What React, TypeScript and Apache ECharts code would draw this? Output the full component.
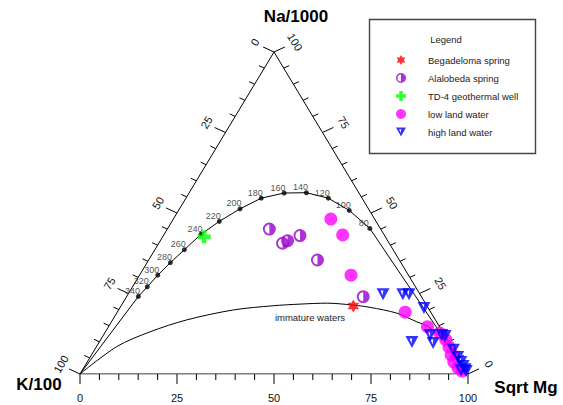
import React, { useEffect, useRef } from "react";
import * as echarts from "echarts";

// Ternary compositions: [Na/1000 %, K/100 %, Sqrt Mg %]
const tempLabels = ["340", "320", "300", "280", "260", "240", "220", "200", "180", "160", "140", "120", "100", "80"];
const equilibriumDots = [
  [24.1, 72.9, 3.0], [27.1, 69.1, 3.8], [30.7, 64.6, 4.7], [34.6, 59.4, 6.0],
  [38.6, 53.8, 7.6], [43.4, 47.1, 9.5], [47.4, 40.4, 12.2], [51.3, 33.1, 15.6],
  [54.6, 26.0, 19.4], [56.2, 19.3, 24.5], [56.3, 13.5, 30.2], [54.6, 8.7, 36.7],
  [50.8, 5.2, 44.0], [45.2, 2.7, 52.1],
];
const kCorner = [0, 100, 0];
const mgCorner = [0, 0, 100];
const immatureCurve = [
  [0, 100, 0], [8.5, 86.3, 5.2], [13.1, 75.4, 11.5], [16.8, 64.1, 19.1], [19.9, 50.5, 29.6],
  [21.2, 39.6, 39.2], [21.7, 32.5, 45.8], [22.0, 25.4, 52.6], [21.4, 18.9, 59.7],
  [20.7, 14.9, 64.4], [18.9, 8.9, 72.2], [16.2, 5.1, 78.7], [14.7, 2.9, 82.4],
  [9.9, 1.0, 89.1], [0, 0, 100],
];

const begadeloma = [[21.1, 19.0, 59.9], [6.2, 0.3, 93.5]];
const alalobeda = [
  [45.0, 28.7, 26.3], [40.6, 27.5, 31.9], [41.4, 25.8, 32.8],
  [43.0, 21.8, 35.2], [35.4, 21.1, 43.5], [24.0, 15.0, 61.0],
];
const td4 = [[42.6, 46.7, 10.7]];
const lowLand = [
  [48.1, 11.3, 40.6], [43.2, 10.7, 46.1], [30.7, 14.8, 54.5], [19.2, 6.6, 74.2],
  [14.7, 3.1, 82.2], [12.7, 0.9, 86.4], [10.6, 0.4, 89.0], [8.4, 0.7, 90.9],
  [5.9, 1.4, 92.7], [3.7, 1.8, 94.5], [1.9, 1.6, 96.5], [0.9, 1.1, 98.0],
];
const highLand = [
  [24.8, 9.5, 65.7], [24.8, 4.4, 70.8], [24.8, 2.8, 72.4], [20.5, 1.1, 78.4],
  [9.9, 9.5, 80.6], [12.1, 3.7, 84.2], [9.6, 4.2, 86.2], [12.1, 0.7, 87.2],
  [11.8, 0.0, 88.2], [7.5, 0.0, 92.5], [5.3, 0.0, 94.7], [3.7, 0.0, 96.3],
  [2.5, 0.0, 97.5], [1.5, 0.0, 98.5], [0.9, 0.0, 99.1], [1.2, 1.2, 97.6],
];

const tickValues = [0, 5, 10, 15, 20, 25, 30, 35, 40, 45, 50, 55, 60, 65, 70, 75, 80, 85, 90, 95, 100];
const majorTicks = [0, 25, 50, 75, 100];

const toXY = (t: number[]) => {
  const s = t[0] + t[1] + t[2];
  const na = (t[0] / s) * 100;
  const mg = (t[2] / s) * 100;
  return [mg + na / 2, na];
};

// ticks: [x, y, side(0 bottom,1 left,2 right), value]
const tickData: number[][] = [];
tickValues.forEach((v) => {
  const b = toXY([0, 100 - v, v]);
  tickData.push([b[0], b[1], 0, v]);
  const l = toXY([100 - v, v, 0]);
  tickData.push([l[0], l[1], 1, v]);
  const r = toXY([v, 0, 100 - v]);
  tickData.push([r[0], r[1], 2, v]);
});

const starPath = (() => {
  let d = "path://";
  for (let i = 0; i < 12; i++) {
    const a = ((-90 + i * 30) * Math.PI) / 180;
    const r = i % 2 === 0 ? 10 : 5.77;
    d += (i === 0 ? "M" : "L") + (10 + r * Math.cos(a)).toFixed(2) + "," + (10 + r * Math.sin(a)).toFixed(2);
  }
  return d + "Z";
})();
const halfCirclePath =
  "path://M10,0A10,10,0,1,1,10,20A10,10,0,1,1,10,0ZM10,3A7,7,0,1,0,10,17A7,7,0,1,0,10,3ZM10,3A7,7,0,0,1,10,17Z";
const crossPath = "path://M6.5,0H13.5V6.5H20V13.5H13.5V20H6.5V13.5H0V6.5H6.5Z";
const trianglePath = "path://M0,0L20,0L10,18ZM6.5,3.5L9,11L10.5,3.5Z";

const FONT = "Arial, 'Liberation Sans', sans-serif";

export default function App() {
  const ref = useRef<HTMLDivElement>(null);
  useEffect(() => {
    if (!ref.current) return;
    const chart = echarts.init(ref.current, null, { renderer: "svg" });
    const pts = (arr: number[][]) => arr.map(toXY);
    const option: any = {
      animation: false,
      grid: { left: 80, right: 95, top: 52, bottom: 31 },
      xAxis: { type: "value", min: 0, max: 100, show: false },
      yAxis: { type: "value", min: 0, max: 100, show: false },
      legend: {
        orient: "vertical",
        left: 396,
        top: 55,
        padding: 0,
        itemWidth: 10,
        itemHeight: 10,
        itemGap: 8,
        data: ["Begadeloma spring", "Alalobeda spring", "TD-4 geothermal well", "low land water", "high land water"],
        textStyle: { fontSize: 9.5, fontFamily: FONT, color: "#222", lineHeight: 10, padding: [0, 0, 0, 17] },
      },
      graphic: [
        { type: "rect", shape: { x: 369.5, y: 19.5, width: 166, height: 134 }, style: { fill: "none", stroke: "#444", lineWidth: 1.4 }, silent: true },
        { type: "text", x: 446, y: 39, style: { text: "Legend", fontSize: 9.5, fontFamily: FONT, fill: "#222", align: "center", verticalAlign: "middle" } },
        { type: "text", x: 296, y: 16, style: { text: "Na/1000", fontSize: 17, fontWeight: "bold", fontFamily: FONT, fill: "#000", align: "center", verticalAlign: "middle" } },
        { type: "text", x: 39, y: 384, style: { text: "K/100", fontSize: 17, fontWeight: "bold", fontFamily: FONT, fill: "#000", align: "center", verticalAlign: "middle" } },
        { type: "text", x: 526, y: 387, style: { text: "Sqrt Mg", fontSize: 17, fontWeight: "bold", fontFamily: FONT, fill: "#000", align: "center", verticalAlign: "middle" } },
        { type: "text", x: 310, y: 317, style: { text: "immature waters", fontSize: 9.5, fontFamily: FONT, fill: "#222", align: "center", verticalAlign: "middle" } },
      ],
      series: [
        {
          type: "line", silent: true, symbol: "none", z: 1,
          data: pts([kCorner, mgCorner, [100, 0, 0], kCorner]),
          lineStyle: { color: "#000", width: 1 },
        },
        {
          type: "line", silent: true, symbol: "none", z: 1,
          data: pts([kCorner, ...equilibriumDots, mgCorner]),
          lineStyle: { color: "#000", width: 1 },
        },
        {
          type: "line", silent: true, symbol: "none", z: 1, smooth: 0.3,
          data: pts(immatureCurve),
          lineStyle: { color: "#000", width: 1 },
        },
        {
          type: "scatter", silent: true, z: 2, symbolSize: 5,
          itemStyle: { color: "#000" },
          data: equilibriumDots.map((d, i) => ({ value: toXY(d), name: tempLabels[i] })),
          label: {
            show: true, position: "top", distance: 0, offset: [-6, 1.5],
            formatter: (p: any) => p.name, fontSize: 9, fontFamily: FONT, color: "#222",
          },
        },
        {
          type: "custom", silent: true, z: 1, clip: false,
          data: tickData,
          renderItem: (params: any, api: any) => {
            const p = api.coord([api.value(0), api.value(1)]);
            const side = api.value(2);
            const v = api.value(3);
            const major = majorTicks.indexOf(v) >= 0;
            let dx = 0, dy = 1, len = major ? 10 : 6;
            if (side === 1) { dx = -0.91; dy = -0.42; len = major ? 12 : 6; }
            if (side === 2) { dx = 0.91; dy = -0.42; len = major ? 12 : 6; }
            const children: any[] = [
              { type: "line", shape: { x1: p[0], y1: p[1], x2: p[0] + dx * len, y2: p[1] + dy * len }, style: { stroke: "#000", lineWidth: 1 } },
            ];
            if (major) {
              let lx = p[0], ly = p[1] + 24, rot = 0;
              if (side === 1) { lx = p[0] - 19; ly = p[1] - 10; rot = (59 * Math.PI) / 180; }
              if (side === 2) { lx = p[0] + 21; ly = p[1] - 10; rot = (-59 * Math.PI) / 180; }
              children.push({
                type: "text", x: lx, y: ly, rotation: rot,
                style: { text: String(v), fontSize: 11, fontFamily: FONT, fill: "#111", align: "center", verticalAlign: "middle" },
              });
            }
            return { type: "group", children };
          },
        },
        {
          name: "Begadeloma spring", type: "scatter", z: 3, symbol: starPath, symbolKeepAspect: true, symbolSize: 13,
          itemStyle: { color: "#ff0000" }, data: pts(begadeloma),
        },
        {
          name: "Alalobeda spring", type: "scatter", z: 3, symbol: halfCirclePath, symbolSize: 13,
          itemStyle: { color: "#9900cc" }, data: pts(alalobeda),
        },
        {
          name: "TD-4 geothermal well", type: "scatter", z: 3, symbol: crossPath, symbolSize: 13,
          itemStyle: { color: "#00ff00" }, data: pts(td4),
        },
        {
          name: "low land water", type: "scatter", z: 3, symbol: "circle", symbolSize: 13,
          itemStyle: { color: "#ff00ff" }, data: pts(lowLand),
        },
        {
          name: "high land water", type: "scatter", z: 4, symbol: trianglePath, symbolSize: [13, 12],
          itemStyle: { color: "#0000ff" }, data: pts(highLand),
        },
      ],
    };
    chart.setOption(option);
    return () => chart.dispose();
  }, []);
  return <div ref={ref} style={{ position: "fixed", left: 0, top: 0, width: 563, height: 405, background: "#fff" }} />;
}
